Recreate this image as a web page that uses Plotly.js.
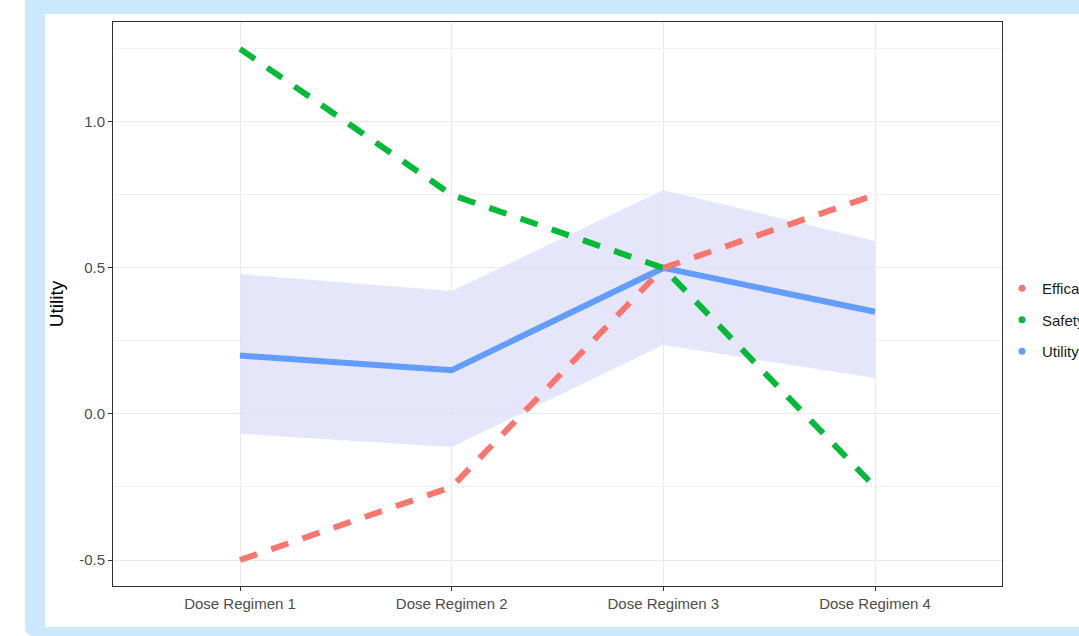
<!DOCTYPE html>
<html>
<head>
<meta charset="utf-8">
<script src="https://cdn.plot.ly/plotly-3.0.1.min.js"></script>
<style>
  html, body { margin: 0; padding: 0; width: 1079px; height: 636px; overflow: hidden; background: #ffffff; }
  #frame { position: absolute; left: 25px; top: 0px; width: 1080px; height: 636px; background: #cce8fc; border-radius: 0 0 0 8px; }
  #chart { position: absolute; left: 45px; top: 14px; width: 1034px; height: 613px; background: #ffffff; }
</style>
</head>
<body>
<div id="frame"></div>
<div id="chart"></div>
<script>
// ---- data ----
const categories = ["Dose Regimen 1", "Dose Regimen 2", "Dose Regimen 3", "Dose Regimen 4"];
const efficacy = [-0.5, -0.25, 0.5, 0.75];
const safety = [1.25, 0.75, 0.5, -0.25];
const utility = [0.2, 0.15, 0.5, 0.35];
const utilityLower = [-0.068, -0.113, 0.236, 0.123];
const utilityUpper = [0.479, 0.421, 0.767, 0.592];
const seriesNames = ["Efficacy", "Safety", "Utility"];
const yTickVals = [-0.5, 0.0, 0.5, 1.0];
const yTickLabels = ["-0.5", "0.0", "0.5", "1.0"];

const colors = { Efficacy: "#F8766D", Safety: "#00BA38", Utility: "#619CFF" };
const seriesData = { Efficacy: efficacy, Safety: safety, Utility: utility };
const dashPattern = "18px,15px";

const traces = [
  { x: categories, y: utilityLower, type: "scatter", mode: "lines", line: { width: 0 }, hoverinfo: "skip", showlegend: false },
  { x: categories, y: utilityUpper, type: "scatter", mode: "lines", line: { width: 0 }, fill: "tonexty", fillcolor: "rgba(226,226,250,0.85)", hoverinfo: "skip", showlegend: false },
  { x: categories, y: utility, type: "scatter", mode: "lines", line: { color: colors.Utility, width: 6 }, showlegend: false },
  { x: categories, y: efficacy, type: "scatter", mode: "lines", line: { color: colors.Efficacy, width: 6, dash: dashPattern }, showlegend: false },
  { x: categories, y: safety, type: "scatter", mode: "lines", line: { color: colors.Safety, width: 6, dash: dashPattern }, showlegend: false }
];
// legend entries (points), drawn on a hidden overlay axis so they stay out of view
seriesNames.forEach(function (name) {
  traces.push({
    x: categories, y: seriesData[name], yaxis: "y2", type: "scatter", mode: "markers",
    name: name, legendgroup: name, marker: { color: colors[name], size: 7 }, hoverinfo: "skip"
  });
});

const axisFont = { family: "Liberation Sans, Arial, sans-serif", size: 15, color: "#4d4d4d" };

const layout = {
  width: 1034, height: 613,
  paper_bgcolor: "#ffffff", plot_bgcolor: "#ffffff",
  margin: { l: 68, r: 77, t: 8, b: 41, autoexpand: false },
  font: { family: "Liberation Sans, Arial, sans-serif" },
  xaxis: {
    type: "category", range: [-0.6, 3.6], categoryarray: categories,
    showgrid: true, gridcolor: "#ebebeb", gridwidth: 1,
    showline: true, linecolor: "#333333", linewidth: 1, mirror: true,
    ticks: "outside", ticklen: 4, tickcolor: "#333333", tickwidth: 1,
    tickfont: axisFont, zeroline: false, automargin: false
  },
  yaxis: {
    range: [-0.589, 1.342], tickmode: "array", tickvals: yTickVals, ticktext: yTickLabels,
    showgrid: true, gridcolor: "#ebebeb", gridwidth: 1,
    minor: { dtick: 0.25, tick0: 0, showgrid: true, gridcolor: "#f2f2f2", gridwidth: 1 },
    showline: true, linecolor: "#333333", linewidth: 1, mirror: true,
    ticks: "outside", ticklen: 4, tickcolor: "#333333", tickwidth: 1,
    tickfont: axisFont, zeroline: false, automargin: false,
    title: { text: "Utility", font: { family: "Liberation Sans, Arial, sans-serif", size: 19, color: "#000000" }, standoff: 10 }
  },
  yaxis2: { overlaying: "y", range: [100, 101], visible: false, showgrid: false },
  showlegend: true,
  legend: {
    x: 1.0, xanchor: "left", y: 0.4716, yanchor: "middle",
    font: { family: "Liberation Sans, Arial, sans-serif", size: 15, color: "#1a1a1a" },
    tracegroupgap: 9, bgcolor: "rgba(0,0,0,0)", itemclick: false
  }
};

Plotly.newPlot("chart", traces, layout, { displayModeBar: false, staticPlot: true });
</script>
</body>
</html>
